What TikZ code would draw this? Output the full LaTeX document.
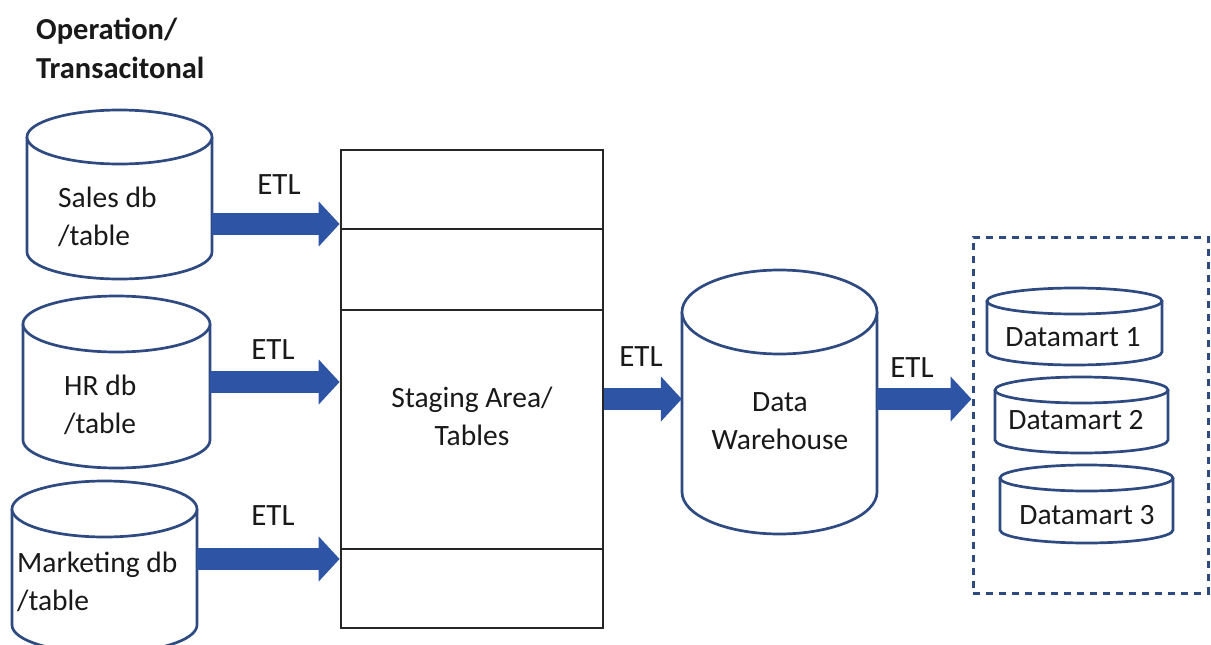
\documentclass[tikz,border=0pt]{standalone}
\usepackage{fontspec}
\setmainfont{Carlito}
\usetikzlibrary{arrows.meta}
\definecolor{navy}{RGB}{47,74,128}
\definecolor{etlblue}{RGB}{46,84,165}
\definecolor{txt}{RGB}{25,25,25}
\tikzset{
  cylline/.style={draw=navy,line width=2.7pt,fill=white},
  lbl/.style={font=\fontsize{29.5}{38}\selectfont,text=txt,inner sep=0pt},
  etllbl/.style={font=\fontsize{31}{38}\selectfont,text=txt,inner sep=0pt},
  etl/.style={draw=etlblue,line width=22pt,-{Triangle[length=21pt,width=44pt]},fill=etlblue},
  boxline/.style={draw=black!85,line width=2.8pt},
}
% name, cx, rx, ytop-center, ybottom-center, ry
\newcommand\dbcyl[6]{%
  \draw[cylline] ({#2-#3},#4) -- ({#2-#3},#5) arc[start angle=180,end angle=360,x radius=#3pt,y radius=#6pt] -- ({#2+#3},#4);
  \draw[cylline] (#2,#4) ellipse[x radius=#3pt,y radius=#6pt];
  \node[inner sep=0pt,minimum width={2*#3*1pt},minimum height={(#5-#4)*1pt}] (#1) at (#2,{(#4+#5)/2}) {};
}
\begin{document}
\begin{tikzpicture}[x=1pt,y=-1pt]
\useasboundingbox (0,0) rectangle (1211,645);
\fill[white] (0,0) rectangle (1211,645);

% title
\node[lbl,font=\fontsize{30.5}{39}\selectfont\bfseries,anchor=west,align=left] (title) at (36,48) {Operation/\\Transacitonal};

% source databases
\dbcyl{sales}{119.5}{92.5}{137}{252}{27}
\dbcyl{hr}{116.5}{93.5}{324}{440}{28}
\dbcyl{mkt}{104.5}{92.5}{509}{625}{28}

\node[lbl,anchor=west,align=left] (salest) at (58,217) {Sales db\\/table};
\node[lbl,anchor=west,align=left] (hrt) at (64,405) {HR db\\/table};
\node[lbl,anchor=west,align=left] (mktt) at (17,582) {Marketing db\\/table};

% staging area
\node[boxline,minimum width=262pt,minimum height=478pt,inner sep=0pt] (stage) at (472,389) {};
\draw[boxline] (stage.west |- 0,229) -- (stage.east |- 0,229);
\draw[boxline] (stage.west |- 0,310) -- (stage.east |- 0,310);
\draw[boxline] (stage.west |- 0,549) -- (stage.east |- 0,549);
\node[lbl,align=center] (staget) at (472,416) {Staging Area/\\Tables};

% data warehouse
\dbcyl{dw}{779.5}{97.5}{312}{492}{42}
\node[lbl,align=center] (dwt) at (780,421) {Data\\Warehouse};

% datamarts
\node[draw=navy,line width=3pt,dash pattern=on 7pt off 6pt,minimum width=235pt,minimum height=356pt,inner sep=0pt] (dmbox) at (1090.5,415) {};
\dbcyl{dm1}{1074.5}{87.5}{301}{352}{13}
\dbcyl{dm2}{1081.5}{86.5}{390}{440}{13}
\dbcyl{dm3}{1086.5}{86.5}{478}{530}{13}
\node[lbl] (dm1t) at (1073,337) {Datamart 1};
\node[lbl] (dm2t) at (1076,420) {Datamart 2};
\node[lbl] (dm3t) at (1087,515) {Datamart 3};

% ETL arrows
\draw[etl] (sales.east |- 0,224) -- (stage.west |- 0,224);
\draw[etl] (hr.east |- 0,382) -- (stage.west |- 0,382);
\draw[etl] (mkt.east |- 0,559) -- (stage.west |- 0,559);
\draw[etl] (stage.east |- 0,399) -- (dw.west |- 0,399);
\draw[etl] (dw.east |- 0,399) -- (dmbox.west |- 0,399);

\node[etllbl] (etl1) at (279,185) {ETL};
\node[etllbl] (etl2) at (273,350) {ETL};
\node[etllbl] (etl3) at (273,516) {ETL};
\node[etllbl] (etl4) at (641,357) {ETL};
\node[etllbl] (etl5) at (912,368) {ETL};
\end{tikzpicture}
\end{document}
